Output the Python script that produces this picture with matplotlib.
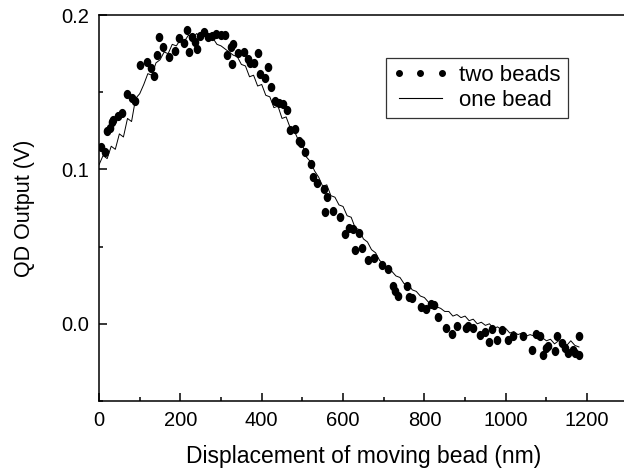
import numpy as np
import matplotlib
matplotlib.use("Agg")
import matplotlib.pyplot as plt
from matplotlib.path import Path
from matplotlib.transforms import Affine2D
from matplotlib.lines import Line2D

plt.rcParams['font.family'] = ['Liberation Sans', 'DejaVu Sans']

# two beads (dots)
two_x = [6, 14, 19, 26, 31, 34, 47, 57, 68, 80, 88, 101, 118, 127, 135, 143, 148, 158,
         173, 187, 196, 209, 216, 220, 228, 236, 242, 248, 259, 269, 278, 288, 299, 310,
         315, 324, 330, 327, 341, 356, 367, 371, 381, 392, 397, 407, 416, 422, 433, 442,
         452, 462, 470, 481, 491, 497, 507, 520, 527, 537, 552, 561, 556, 575, 593, 605,
         615, 624, 638, 629, 646, 662, 676, 695, 711, 722, 728, 736, 757, 763, 769, 791,
         803, 816, 824, 834, 853, 867, 879, 902, 907, 919, 937, 949, 960, 966, 978, 992,
         1006, 1017, 1043, 1064, 1075, 1084, 1091, 1099, 1105, 1120, 1125, 1139, 1146,
         1154, 1165, 1170, 1179, 1181]
two_y = [0.1146, 0.1115, 0.1251, 0.1267, 0.1309, 0.1320, 0.1343, 0.1368, 0.1489, 0.1460,
         0.1445, 0.1676, 0.1696, 0.1655, 0.1605, 0.1741, 0.1860, 0.1795, 0.1726, 0.1769,
         0.1852, 0.1816, 0.1900, 0.1762, 0.1860, 0.1827, 0.1781, 0.1864, 0.1887, 0.1860,
         0.1867, 0.1879, 0.1872, 0.1872, 0.1741, 0.1795, 0.1812, 0.1680, 0.1757, 0.1762,
         0.1715, 0.1687, 0.1687, 0.1756, 0.1620, 0.1594, 0.1665, 0.1534, 0.1443, 0.1430,
         0.1424, 0.1382, 0.1256, 0.1263, 0.1184, 0.1170, 0.1112, 0.1032, 0.0950, 0.0911,
         0.0874, 0.0824, 0.0727, 0.0733, 0.0691, 0.0581, 0.0623, 0.0613, 0.0587, 0.0479,
         0.0490, 0.0414, 0.0425, 0.0382, 0.0354, 0.0246, 0.0214, 0.0177, 0.0246, 0.0173,
         0.0166, 0.0106, 0.0095, 0.0129, 0.0123, 0.0047, -0.0028, -0.0065, -0.0017, -0.0028,
         -0.0017, -0.0028, -0.0071, -0.0056, -0.0115, -0.0032, -0.0108, -0.0043, -0.0108,
         -0.0078, -0.0076, -0.0168, -0.0065, -0.0082, -0.0201, -0.0157, -0.0147, -0.0179,
         -0.0076, -0.0125, -0.0157, -0.0190, -0.0168, -0.0190, -0.0205, -0.0076]

# one bead (line), every 10 nm
one_x = list(range(0, 1190, 10))
one_y = [0.103, 0.109, 0.107, 0.115, 0.113, 0.123, 0.121, 0.133, 0.131, 0.146,
         0.149, 0.155, 0.162, 0.161, 0.169, 0.171, 0.176, 0.175, 0.181, 0.180,
         0.184, 0.183, 0.187, 0.185, 0.188, 0.185, 0.189, 0.186, 0.185, 0.181,
         0.180, 0.178, 0.176, 0.174, 0.173, 0.168, 0.167, 0.160, 0.161, 0.154,
         0.155, 0.148, 0.147, 0.140, 0.141, 0.133, 0.134, 0.127, 0.125, 0.119,
         0.116, 0.108, 0.105, 0.099, 0.095, 0.089, 0.090, 0.083, 0.082, 0.077,
         0.076, 0.070, 0.069, 0.062, 0.061, 0.055, 0.053, 0.048, 0.046, 0.041,
         0.039, 0.036, 0.034, 0.031, 0.030, 0.026, 0.026, 0.022, 0.021, 0.018,
         0.017, 0.014, 0.013, 0.011, 0.010, 0.008, 0.008, 0.005, 0.006, 0.004,
         0.005, 0.002, 0.003, 0.000, 0.001, -0.001, 0.000, -0.003, -0.002, -0.004,
         -0.003, -0.006, -0.005, -0.007, -0.006, -0.008, -0.007, -0.008, -0.010, -0.009,
         -0.011, -0.010, -0.013, -0.011, -0.012, -0.014, -0.011, -0.014, -0.015]

fig = plt.figure(figsize=(6.24, 4.75), dpi=100)
ax = fig.add_axes([0.1587, 0.1558, 0.8473, 0.8126])

# dots are slightly taller than wide
ell = Path.unit_circle().transformed(Affine2D().scale(0.8, 1.0))

ax.plot(one_x, one_y, color='black', lw=0.7)
ax.plot(two_x, two_y, ls='none', marker=ell, ms=5.6, color='black')

ax.set_xlim(0, 1300)
ax.set_ylim(-0.05, 0.2)
ax.set_xticks([0, 200, 400, 600, 800, 1000, 1200])
ax.set_xticks(np.arange(100, 1300, 200), minor=True)
ax.set_yticks([0.0, 0.1, 0.2])
ax.set_yticks([-0.05, 0.05, 0.15], minor=True)
ax.set_yticklabels(['0.0', '0.1', '0.2'])

ax.tick_params(which='both', direction='in', labelsize=14.5, width=1.1)
ax.tick_params(which='major', length=6)
ax.tick_params(which='minor', length=3)
ax.tick_params(axis='x', pad=7)
ax.tick_params(axis='y', pad=7)
for s in ax.spines.values():
    s.set_linewidth(1.1)

ax.set_xlabel('Displacement of moving bead (nm)', fontsize=16.5, labelpad=11)
ax.set_ylabel('QD Output (V)', fontsize=15.5, labelpad=19)

handles = [Line2D([], [], ls='none', marker='o', ms=4, color='black'),
           Line2D([], [], color='black', lw=0.8)]
leg = ax.legend(handles, ['two beads', 'one bead'], loc='upper left',
                bbox_to_anchor=(386 / 624, 1 - 58 / 475), bbox_transform=fig.transFigure,
                numpoints=3, fontsize=16, frameon=True, fancybox=False,
                handlelength=2.5, handletextpad=0.5, borderpad=0.3,
                labelspacing=0.2, borderaxespad=0)
leg.get_frame().set_edgecolor('black')
leg.get_frame().set_linewidth(0.9)

fig.savefig('out.png', dpi=100)
